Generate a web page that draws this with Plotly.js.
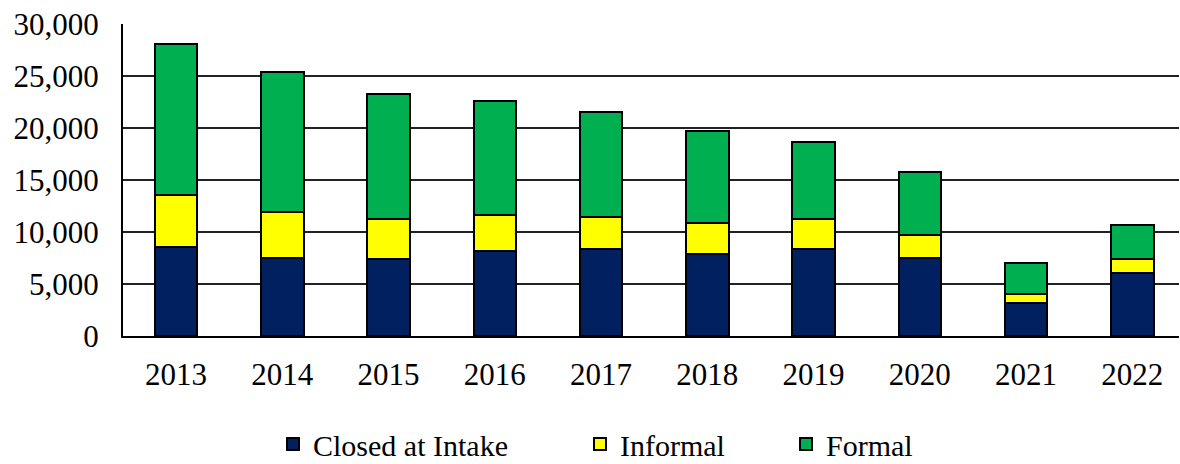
<!DOCTYPE html>
<html>
<head>
<meta charset="utf-8">
<script src="https://cdn.plot.ly/plotly-3.0.1.min.js"></script>
<style>
  html, body { margin: 0; padding: 0; background: #fff; }
  #chart { width: 1180px; height: 464px; }
</style>
</head>
<body>
<div id="chart"></div>
<script>
	// values
	var years = ['2013', '2014', '2015', '2016', '2017', '2018', '2019', '2020', '2021', '2022'];
	var closedAtIntake = [8570, 7490, 7390, 8220, 8350, 7840, 8320, 7510, 3220, 6070];
	var informal = [5010, 4400, 3850, 3410, 3120, 3050, 2920, 2160, 860, 1290];
	var formal = [14450, 13510, 12060, 11010, 10110, 8860, 7390, 6070, 2950, 3300];
	var yTicks = [0, 5000, 10000, 15000, 20000, 25000, 30000];
	var yTickText = ['0', '5,000', '10,000', '15,000', '20,000', '25,000', '30,000'];

	var font = 'Liberation Serif, Times New Roman, serif';
	var outline = { color: '#000', width: 2 };

	var traces = [
		{ type: 'bar', name: 'Closed at Intake', x: years, y: closedAtIntake, legend: 'legend',
		  marker: { color: '#002060', line: outline } },
		{ type: 'bar', name: 'Informal', x: years, y: informal, legend: 'legend2',
		  marker: { color: '#FFFF00', line: outline } },
		{ type: 'bar', name: 'Formal', x: years, y: formal, legend: 'legend3',
		  marker: { color: '#00B050', line: outline } }
	];

	// one legend per series, placed against the whole page so it does not push the margins
	function legendAt(px) {
		return {
			xref: 'container', yref: 'container',
			x: px / 1180, xanchor: 'left',
			y: 1 - 444 / 464, yanchor: 'middle',
			orientation: 'h', bgcolor: 'rgba(0,0,0,0)',
			font: { family: font, size: 30, color: '#000' },
			itemclick: false
		};
	}

	var layout = {
		width: 1180,
		height: 464,
		margin: { l: 123, r: 1, t: 24, b: 128 },
		paper_bgcolor: '#fff',
		plot_bgcolor: '#fff',
		barmode: 'stack',
		bargap: 0.6,
		font: { family: font, size: 31, color: '#000' },
		showlegend: true,
		legend: legendAt(273),
		legend2: legendAt(580),
		legend3: legendAt(786),
		xaxis: {
			type: 'category',
			range: [-0.5, 9.44],
			showgrid: false,
			showline: true,
			linecolor: '#000',
			linewidth: 2,
			ticks: '',
			ticklabelstandoff: 10,
			tickfont: { family: font, size: 31, color: '#000' }
		},
		yaxis: {
			range: [0, 30000],
			tickvals: yTicks,
			ticktext: yTickText,
			showgrid: true,
			gridcolor: '#222',
			gridwidth: 2,
			zeroline: false,
			showline: true,
			linecolor: '#000',
			linewidth: 2,
			ticks: '',
			ticklabelstandoff: 16,
			tickfont: { family: font, size: 31, color: '#000' }
		}
	};

	Plotly.newPlot('chart', traces, layout, { staticPlot: true, displayModeBar: false });
</script>
</body>
</html>
